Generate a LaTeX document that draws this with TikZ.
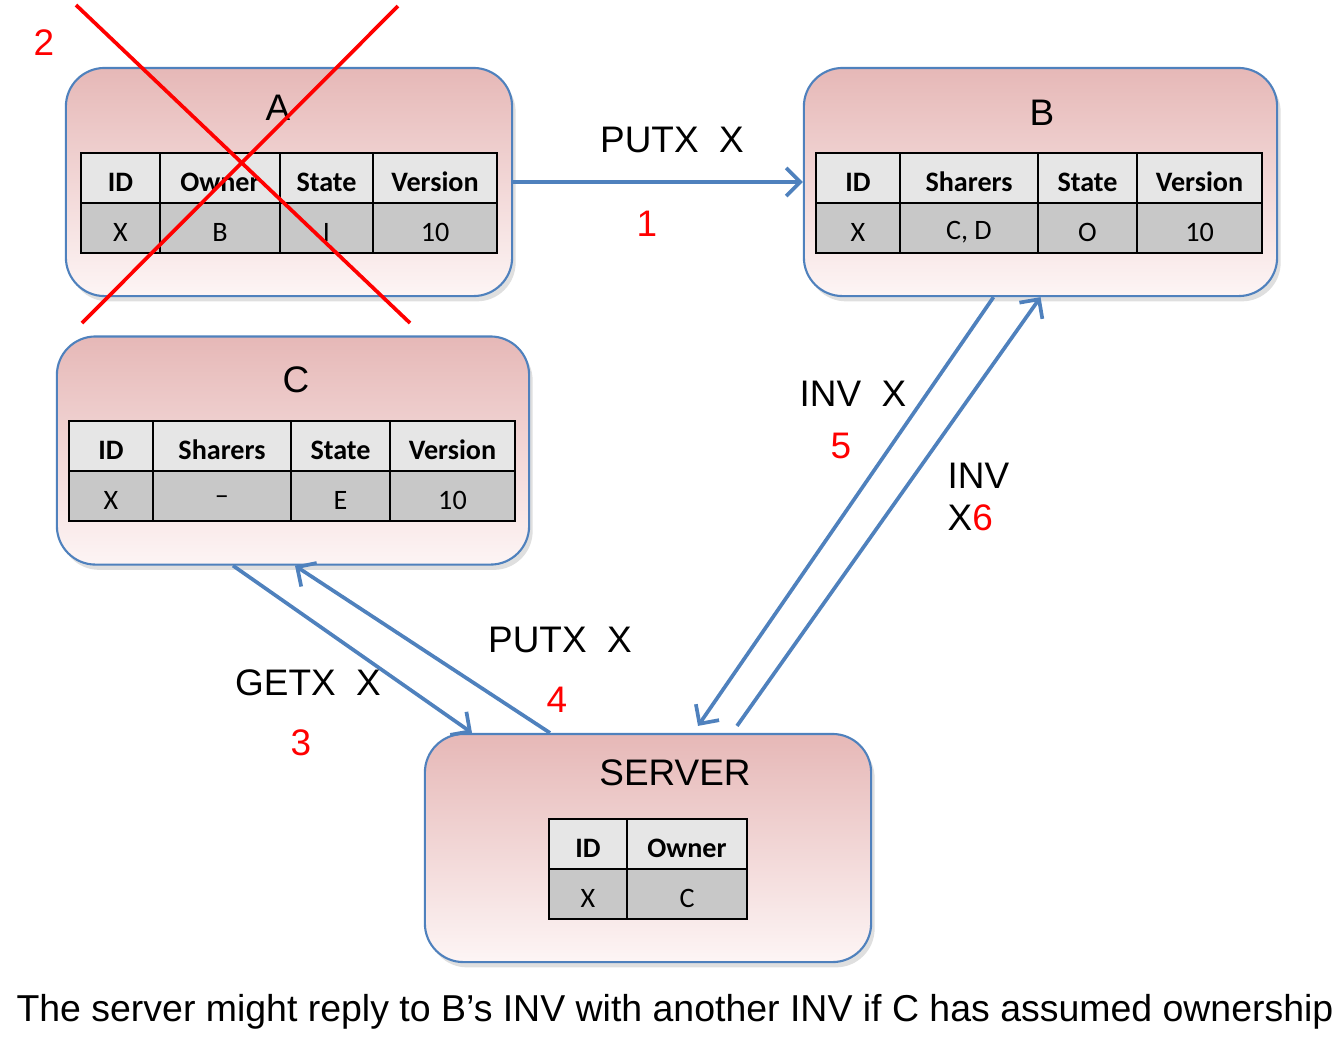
\documentclass[tikz,border=0pt]{standalone}
\usepackage{fontspec}
\setmainfont{Liberation Sans}
\newfontfamily\tabfont{Carlito}
\usetikzlibrary{arrows.meta,positioning,calc,shadows}
\definecolor{cblue}{HTML}{4F81BD}
\definecolor{ctop}{HTML}{E6B8B7}
\definecolor{cbot}{HTML}{FDF5F5}
\definecolor{chead}{HTML}{E6E6E6}
\definecolor{cval}{HTML}{C8C8C8}
\definecolor{cred}{HTML}{FF0000}

% table: name, top y, columns xa/xb/header/value
\newcommand{\celltable}[3]{%
  \foreach \xa/\xb/\hd/\vl [count=\i] in {#3}{
    \draw[hdcell] (\xa,#2) rectangle (\xb,#2+50);
    \draw[valcell] (\xa,#2+50) rectangle (\xb,#2+100);
    \node[hdtext] (#1-h\i) at ({(\xa+\xb)/2},#2+29) {\hd};
    \node[valtext] (#1-v\i) at ({(\xa+\xb)/2},#2+79) {\vl};
  }}

\begin{document}
\begin{tikzpicture}[
    x=0.01cm, y=-0.01cm,
    cache/.style={rectangle, rounded corners=11pt, draw=cblue, line width=0.6pt,
                  top color=ctop, bottom color=cbot, minimum height=2.28cm,
                  drop shadow={shadow xshift=1pt, shadow yshift=-1.5pt, opacity=0.25}},
    title/.style={font=\fontsize{10.5}{12}\selectfont},
    lbl/.style={font=\fontsize{10.5}{12}\selectfont},
    num/.style={font=\fontsize{10.5}{12}\selectfont, text=cred},
    hdcell/.style={fill=chead, draw=black, line width=0.8pt},
    valcell/.style={fill=cval, draw=black, line width=0.8pt},
    hdtext/.style={font=\tabfont\bfseries\fontsize{8}{10}\selectfont},
    valtext/.style={font=\tabfont\fontsize{8}{10}\selectfont},
    arr/.style={-{Straight Barb[length=4pt,width=8pt]}, cblue, line width=1.05pt},
    cross/.style={cred, line width=1.05pt}
  ]
  \useasboundingbox (0,0) rectangle (1337,1041);

  % ---- Caches and server ----
  \node[cache, minimum width=4.46cm] (A) at (289,182) {};
  \node[cache, minimum width=4.73cm] (B) at (1040.5,182) {};
  \node[cache, minimum width=4.72cm] (C) at (293,450.5) {};
  \node[cache, minimum width=4.46cm] (server) at (648,848) {};

  \node[title] (Atitle) at (278,108) {A};
  \node[title] (Btitle) at (1042,113) {B};
  \node[title] (Ctitle) at (296,380) {C};
  \node[title] (Stitle) at (675,773) {SERVER};

  % ---- Tables ----
  \celltable{tA}{153}{81/160/ID/X, 160/280/Owner/B, 280/373/State/I, 373/497/Version/10}
  \celltable{tB}{153}{816/900/ID/X, 900/1038/Sharers/{C, D}, 1038/1137/State/O, 1137/1262/Version/10}
  \celltable{tC}{421}{69/153/ID/X, 153/291/Sharers/\textendash, 291/390/State/E, 390/515/Version/10}
  \celltable{tS}{819}{549/627/ID/X, 627/747/Owner/C}

  % ---- A is crossed out ----
  \draw[cross] (76,5) -- (410,323);
  \draw[cross] (398,6) -- (82,323);
  \node[num] (n2) at (44,43) {2};

  % ---- Messages ----
  \draw[arr] (A.east) -- (B.west);
  \node[lbl] (m1) at (672,140) {PUTX\ \ X};
  \node[num] (n1) at (647,224) {1};

  \draw[arr] ($(C.south)+(-60,0)$) -- ($(server.north)+(-176,0)$);
  \node[lbl] (m3) at (308,683) {GETX\ \ X};
  \node[num] (n3) at (301,743) {3};

  \draw[arr] ($(server.north)+(-98,0)$) -- ($(C.south)+(2,0)$);
  \node[lbl] (m4) at (560,640) {PUTX\ \ X};
  \node[num] (n4) at (557,700) {4};

  \draw[arr] ($(B.south)+(-47,0)$) -- ($(server.north)+(50,-7)$);
  \node[lbl] (m5) at (853,394) {INV\ \ X};
  \node[num] (n5) at (841,446) {5};

  \draw[arr] ($(server.north)+(89,-7)$) -- (B.south);
  \node[lbl, align=left, anchor=north west, inner sep=0pt] (m6) at (947,462)
    {INV\\X\textcolor{cred}{6}};

  % ---- Caption ----
  \node[font=\fontsize{10.65}{12}\selectfont] (caption) at (675,1012)
    {The server might reply to B’s INV with another INV if C has assumed ownership};
\end{tikzpicture}
\end{document}
